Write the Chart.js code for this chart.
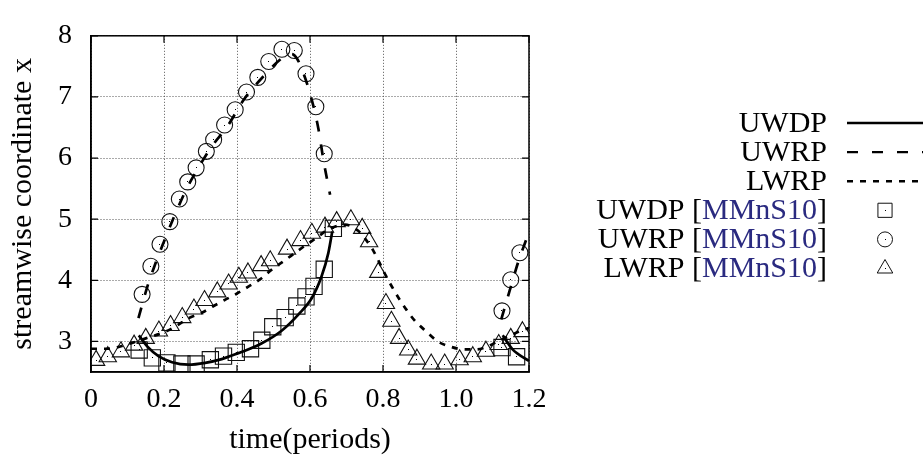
<!DOCTYPE html>
<html>
<head>
<meta charset="utf-8">
<script src="https://cdn.jsdelivr.net/npm/chart.js@4.4.1/dist/chart.umd.min.js"></script>
<style>
  html, body { margin: 0; padding: 0; background: #fff; }
  #wrap { width: 923px; height: 464px; }
</style>
</head>
<body>
<div id="wrap"><canvas id="x-chart"></canvas></div>
<script>
// axis ticks
const xTicks = [0, 0.2, 0.4, 0.6, 0.8, 1, 1.2];
const yTicks = [3, 4, 5, 6, 7, 8];

// UWDP model (solid), two pieces
const uwdpT = [0.131, 0.154, 0.185, 0.222, 0.267, 0.313, 0.358, 0.395, 0.414, 0.468, 0.523, 0.568, 0.605, 0.632, 0.650, 0.661];
const uwdpV = [3.10, 2.92, 2.76, 2.66, 2.62, 2.65, 2.71, 2.79, 2.83, 2.97, 3.18, 3.44, 3.71, 4.07, 4.44, 4.80];
const uwdpT2 = [1.128, 1.155, 1.2];
const uwdpV2 = [3.10, 2.87, 2.68];

// UWRP model (dashed), two pieces
const uwrpT = [0.130, 0.154, 0.175, 0.199, 0.229, 0.263, 0.295, 0.331, 0.375, 0.418, 0.473, 0.527, 0.550, 0.565, 0.582, 0.605, 0.623, 0.637, 0.655];
const uwrpV = [3.38, 3.89, 4.25, 4.62, 5.06, 5.51, 5.85, 6.19, 6.53, 6.95, 7.34, 7.65, 7.70, 7.62, 7.39, 6.95, 6.48, 5.96, 5.40];
const uwrpT2 = [1.124, 1.148, 1.171, 1.192, 1.2];
const uwrpV2 = [3.36, 3.85, 4.31, 4.66, 4.80];

// LWRP model (short dashes)
const lwrpT = [0, 0.044, 0.104, 0.150, 0.204, 0.236, 0.267, 0.304, 0.336, 0.367, 0.399, 0.432, 0.464, 0.496, 0.527, 0.557, 0.587, 0.619, 0.650, 0.696, 0.732, 0.755, 0.773, 0.791, 0.810, 0.828, 0.846, 0.864, 0.887, 0.919, 0.950, 0.987, 1.023, 1.055, 1.087, 1.114, 1.150, 1.180, 1.200];
const lwrpV = [2.88, 2.88, 2.96, 3.05, 3.16, 3.26, 3.38, 3.47, 3.58, 3.68, 3.78, 3.90, 4.02, 4.18, 4.31, 4.44, 4.57, 4.70, 4.83, 4.91, 4.81, 4.65, 4.49, 4.28, 4.05, 3.86, 3.68, 3.52, 3.34, 3.16, 3.00, 2.91, 2.87, 2.87, 2.92, 3.00, 3.10, 3.18, 3.22];

// MMnS10 reference points
const uwdpMarkT = [0.132, 0.168, 0.208, 0.249, 0.288, 0.327, 0.363, 0.398, 0.437, 0.468, 0.498, 0.532, 0.564, 0.589, 0.611, 0.639, 0.664, 1.126, 1.166];
const uwdpMarkV = [2.86, 2.73, 2.65, 2.63, 2.63, 2.70, 2.76, 2.82, 2.88, 3.02, 3.24, 3.39, 3.58, 3.73, 3.90, 4.18, 4.85, 2.90, 2.75];
const uwrpMarkT = [0.140, 0.164, 0.189, 0.216, 0.242, 0.265, 0.288, 0.316, 0.336, 0.366, 0.395, 0.426, 0.457, 0.487, 0.523, 0.557, 0.589, 0.616, 0.639, 1.126, 1.150, 1.175];
const uwrpMarkV = [3.77, 4.23, 4.59, 4.96, 5.33, 5.61, 5.84, 6.11, 6.30, 6.54, 6.79, 7.08, 7.32, 7.58, 7.78, 7.76, 7.38, 6.84, 6.07, 3.50, 4.01, 4.45];
const lwrpMarkT = [0.014, 0.046, 0.082, 0.118, 0.150, 0.186, 0.218, 0.250, 0.282, 0.311, 0.346, 0.377, 0.405, 0.430, 0.466, 0.491, 0.537, 0.574, 0.605, 0.641, 0.673, 0.712, 0.743, 0.762, 0.787, 0.808, 0.823, 0.844, 0.869, 0.893, 0.932, 0.969, 1.010, 1.046, 1.082, 1.117, 1.150, 1.182];
const lwrpMarkV = [2.69, 2.75, 2.83, 2.94, 3.05, 3.17, 3.26, 3.39, 3.53, 3.67, 3.81, 3.94, 4.05, 4.12, 4.24, 4.32, 4.51, 4.65, 4.77, 4.87, 4.96, 4.99, 4.85, 4.63, 4.13, 3.62, 3.33, 3.05, 2.86, 2.71, 2.63, 2.63, 2.70, 2.75, 2.84, 2.95, 3.05, 3.16];

const legendLabels = ['UWDP', 'UWRP', 'LWRP', 'UWDP [MMnS10]', 'UWRP [MMnS10]', 'LWRP [MMnS10]'];

const SERIF = '"Liberation Serif", "Times New Roman", serif';

function pts(ts, vs) {
    return ts.map((t, i) => ({ x: t, y: vs[i] }));
}

function lineSet(ts, vs, dash) {
    return {
        data: pts(ts, vs),
        showLine: true,
        borderColor: '#000',
        borderWidth: 2.7,
        borderDash: dash,
        pointRadius: 0,
        cubicInterpolationMode: 'monotone',
        fill: false
    };
}

function markSet(ts, vs, style, radius) {
    return {
        data: pts(ts, vs),
        showLine: false,
        pointStyle: style,
        pointRadius: radius,
        pointBorderColor: '#111',
        pointBackgroundColor: 'rgba(0,0,0,0)',
        pointBorderWidth: 1.1
    };
}

// full frame with inward ticks (gnuplot style)
const framePlugin = {
    id: 'frame',
    afterDatasetsDraw(chart) {
        const { ctx, chartArea: a, scales } = chart;
        ctx.save();
        ctx.strokeStyle = '#000';
        ctx.lineWidth = 1.5;
        ctx.strokeRect(a.left, a.top, a.width, a.height);
        ctx.lineWidth = 1.2;
        ctx.beginPath();
        xTicks.forEach(v => {
            const x = scales.x.getPixelForValue(v);
            ctx.moveTo(x, a.bottom); ctx.lineTo(x, a.bottom - 7);
            ctx.moveTo(x, a.top); ctx.lineTo(x, a.top + 7);
        });
        yTicks.forEach(v => {
            const y = scales.y.getPixelForValue(v);
            ctx.moveTo(a.left, y); ctx.lineTo(a.left + 7, y);
            ctx.moveTo(a.right, y); ctx.lineTo(a.right - 7, y);
        });
        ctx.stroke();
        ctx.restore();
    }
};

// tiny dot in the middle of every marker
const dotPlugin = {
    id: 'centerDots',
    afterDatasetsDraw(chart) {
        const { ctx, chartArea: a } = chart;
        ctx.save();
        ctx.beginPath();
        ctx.rect(a.left, a.top, a.width, a.height);
        ctx.clip();
        ctx.fillStyle = '#000';
        chart.data.datasets.forEach((ds, i) => {
            if (ds.showLine) return;
            chart.getDatasetMeta(i).data.forEach(p => {
                ctx.fillRect(Math.floor(p.x), Math.floor(p.y), 1, 1);
            });
        });
        ctx.restore();
    }
};

// legend on the right: text right-aligned, sample after it
const sideLegend = {
    id: 'sideLegend',
    afterDraw(chart) {
        const ctx = chart.ctx;
        const samples = [
            { dash: [] }, { dash: [11, 14] }, { dash: [6, 7] },
            { style: 'rect', r: 10 }, { style: 'circle', r: 7.5 }, { style: 'triangle', r: 9 }
        ];
        ctx.save();
        ctx.font = '30px ' + SERIF;
        ctx.textBaseline = 'alphabetic';
        ctx.textAlign = 'left';
        legendLabels.forEach((label, i) => {
            const base = 131.5 + i * 29.1;
            const m = label.match(/^(.*\[)(.*)(\])$/);
            const parts = m ? [[m[1], '#000'], [m[2], '#2a2a80'], [m[3], '#000']] : [[label, '#000']];
            const total = parts.reduce((s, p) => s + ctx.measureText(p[0]).width, 0);
            let x = 827 - total;
            parts.forEach(p => {
                ctx.fillStyle = p[1];
                ctx.fillText(p[0], x, base);
                x += ctx.measureText(p[0]).width;
            });
            const s = samples[i];
            const cy = base - 8.5;
            if (s.style) {
                ctx.strokeStyle = '#111';
                ctx.fillStyle = 'rgba(0,0,0,0)';
                ctx.lineWidth = 1;
                Chart.helpers.drawPoint(ctx, { pointStyle: s.style, radius: s.r, rotation: 0, borderWidth: 1 }, 885, cy);
                ctx.fillStyle = '#000';
                ctx.fillRect(885, Math.floor(cy), 1, 1);
            } else {
                ctx.strokeStyle = '#000';
                ctx.lineWidth = 2.4;
                ctx.setLineDash(s.dash);
                ctx.beginPath();
                ctx.moveTo(847, cy);
                ctx.lineTo(923, cy);
                ctx.stroke();
                ctx.setLineDash([]);
            }
        });
        ctx.restore();
    }
};

let mainChart = null;
function createMainChart() {
    const ctx = document.getElementById('x-chart').getContext('2d');
    mainChart = new Chart(ctx, {
        type: 'scatter',
        data: {
            datasets: [
                lineSet(uwdpT, uwdpV, []),
                lineSet(uwdpT2, uwdpV2, []),
                lineSet(uwrpT, uwrpV, [11, 13]),
                lineSet(uwrpT2, uwrpV2, [11, 13]),
                lineSet(lwrpT, lwrpV, [6, 7]),
                markSet(uwdpMarkT, uwdpMarkV, 'rect', 11.5),
                markSet(uwrpMarkT, uwrpMarkV, 'circle', 8),
                markSet(lwrpMarkT, lwrpMarkV, 'triangle', 10)
            ]
        },
        options: {
            responsive: true,
            maintainAspectRatio: false,
            animation: false,
            layout: {
                padding: { top: 21, right: 394, left: 0, bottom: 0 }
            },
            plugins: {
                legend: { display: false },
                tooltip: { enabled: false }
            },
            scales: {
                x: {
                    type: 'linear',
                    min: 0,
                    max: 1.2,
                    afterBuildTicks: s => { s.ticks = xTicks.map(v => ({ value: v })); },
                    afterFit: s => { s.height = 92; },
                    grid: { color: '#555', lineWidth: 1, drawTicks: false },
                    border: { display: true, color: '#000', width: 1.5, dash: [1, 2] },
                    ticks: {
                        color: '#000',
                        padding: 11,
                        maxRotation: 0,
                        font: { family: SERIF, size: 28 }
                    },
                    title: {
                        display: true,
                        text: 'time(periods)',
                        color: '#000',
                        padding: { top: 0, bottom: 6 },
                        font: { family: SERIF, size: 30 }
                    }
                },
                y: {
                    type: 'linear',
                    min: 2.5,
                    max: 8,
                    afterBuildTicks: s => { s.ticks = yTicks.map(v => ({ value: v })); },
                    afterFit: s => { s.width = 91; },
                    grid: { color: '#555', lineWidth: 1, drawTicks: false },
                    border: { display: true, color: '#000', width: 1.5, dash: [1, 2] },
                    ticks: {
                        color: '#000',
                        padding: 19,
                        font: { family: SERIF, size: 28 }
                    },
                    title: {
                        display: true,
                        text: 'streamwise coordinate x',
                        color: '#000',
                        padding: { top: 5, bottom: 0 },
                        font: { family: SERIF, size: 30 }
                    }
                }
            }
        },
        plugins: [framePlugin, dotPlugin, sideLegend]
    });
    return mainChart;
}

createMainChart();
</script>
</body>
</html>
